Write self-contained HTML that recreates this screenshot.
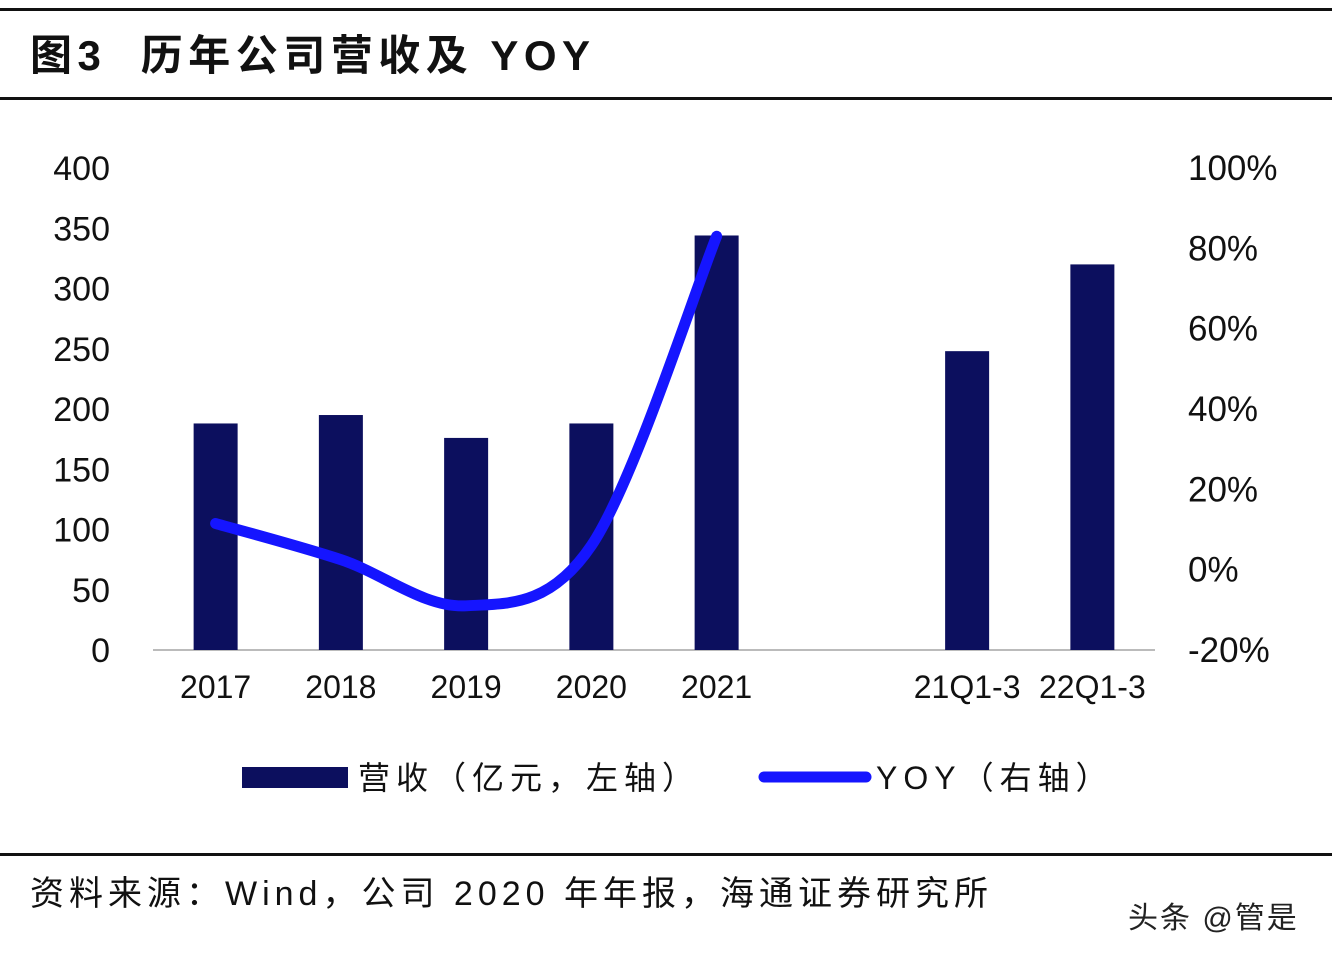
<!DOCTYPE html>
<html><head><meta charset="utf-8"><style>
html,body{margin:0;padding:0;background:#fff;}
body{width:1332px;height:962px;position:relative;overflow:hidden;font-family:"Liberation Sans","Noto Sans CJK SC",sans-serif;}
svg text{font-family:"Liberation Sans","Noto Sans CJK SC",sans-serif;}
</style></head><body>
<svg id="chart" width="1332" height="962">
<rect x="0" y="8" width="1332" height="3" fill="#111"/>
<text x="30" y="70" font-size="42" font-weight="bold" fill="#111" letter-spacing="5.5">图3 &#160;历年公司营收及 YOY</text>
<rect x="0" y="97" width="1332" height="3" fill="#111"/>
<g id="plot"></g>
<rect x="242" y="767" width="106" height="21" fill="#0c0f5e"/>
<text x="358" y="789" font-size="32" fill="#111" letter-spacing="6">营收（亿元，左轴）</text>
<line x1="764" y1="777" x2="866" y2="777" stroke="#1515ff" stroke-width="11" stroke-linecap="round"/>
<text x="876" y="789" font-size="32" fill="#111" letter-spacing="6">YOY（右轴）</text>
<rect x="0" y="853" width="1332" height="3" fill="#111"/>
<text x="30" y="905" font-size="34" fill="#111" letter-spacing="5">资料来源：Wind，公司 2020 年年报，海通证券研究所</text>
<text x="1128" y="928" font-size="30" fill="#222" letter-spacing="2">头条 @管是</text>
</svg>
<script>
const categories=["2017","2018","2019","2020","2021","","21Q1-3","22Q1-3"];
const revenue=[188,195,176,188,344,null,248,320];
const yoy=[11.5,2.5,-9,6,83,null,null,null];
const leftTicks=[0,50,100,150,200,250,300,350,400];
const rightTicks=[-20,0,20,40,60,80,100];
const NS="http://www.w3.org/2000/svg";
const g=document.getElementById('plot');
const x0=153,x1=1155,slot=(x1-x0)/categories.length;
const yL=v=>650-v*(482/400);
const yR=v=>650-(v+20)*(482/120);
const xC=i=>x0+slot*(i+0.5);
function mk(t,a){const e=document.createElementNS(NS,t);for(const k in a)e.setAttribute(k,a[k]);g.appendChild(e);return e;}
leftTicks.forEach(v=>{const t=mk('text',{x:110,y:yL(v)+12,'font-size':34,'text-anchor':'end',fill:'#111'});t.textContent=v;

});
rightTicks.forEach(v=>{const t=mk('text',{x:1188,y:yR(v)+12,'font-size':35,fill:'#111'});t.textContent=v+'%';

});
const ax=mk('line',{x1:x0,y1:650,x2:x1,y2:650,stroke:'#bbb','stroke-width':2});


categories.forEach((c,i)=>{
 if(revenue[i]!=null){const b=mk('rect',{x:xC(i)-22,y:yL(revenue[i]),width:44,height:650-yL(revenue[i]),fill:'#0c0f5e'});
 
 }
 if(c){const t=mk('text',{x:xC(i),y:698,'font-size':32,'text-anchor':'middle',fill:'#111'});t.textContent=c;
 
 }
});
const pts=[];yoy.forEach((v,i)=>{if(v!=null)pts.push([xC(i),yR(v)]);});
let d='M'+pts[0][0]+','+pts[0][1];
for(let i=0;i<pts.length-1;i++){const p0=pts[Math.max(0,i-1)],p1=pts[i],p2=pts[i+1],p3=pts[Math.min(pts.length-1,i+2)];
 const c1=[p1[0]+(p2[0]-p0[0])/6,p1[1]+(p2[1]-p0[1])/6],c2=[p2[0]-(p3[0]-p1[0])/6,p2[1]-(p3[1]-p1[1])/6];
 d+=` C${c1[0]},${c1[1]} ${c2[0]},${c2[1]} ${p2[0]},${p2[1]}`;}
const ln=mk('path',{d:d,fill:'none',stroke:'#1515ff','stroke-width':11,'stroke-linecap':'round'});


</script>
</body></html>
